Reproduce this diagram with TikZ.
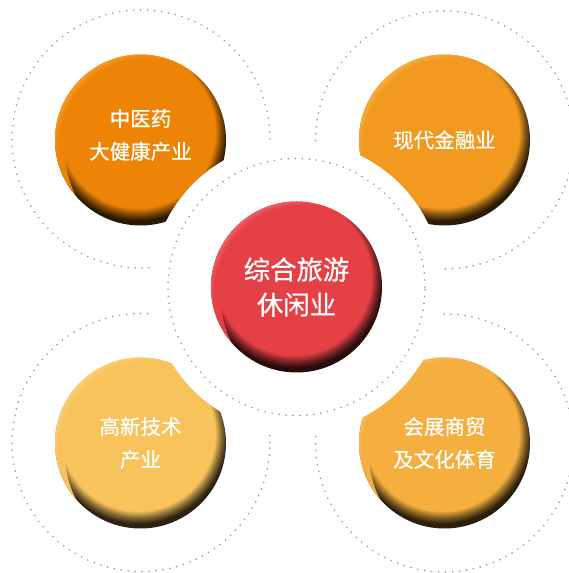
\documentclass[tikz,border=0pt]{standalone}
\usepackage{fontspec}
\setmainfont{Noto Sans CJK SC}[FakeBold=0.6]

\definecolor{medorange}{HTML}{EE8405}
\definecolor{finorange}{HTML}{F29A20}
\definecolor{techyellow}{HTML}{F8C35B}
\definecolor{tradeorange}{HTML}{F4AF3E}
\definecolor{tourred}{HTML}{E54045}
\definecolor{ringgray}{HTML}{9A9A9A}

\colorlet{ballbase}{medorange}
\colorlet{ballmid}{black}
\colorlet{balldark}{black}
\colorlet{balllight}{white}
% dark rim at the lower right, light rim at the upper left
\pgfdeclareradialshading[ballbase,ballmid,balldark]{ballshade}{\pgfpoint{-1.5bp}{5bp}}{color(0bp)=(ballbase); color(22.6bp)=(ballbase); color(24.3bp)=(ballmid); color(26bp)=(balldark); color(50bp)=(balldark)}
\pgfdeclareradialshading[ballbase,balllight]{ballshine}{\pgfpoint{4bp}{-4bp}}{color(0bp)=(ballbase); color(26bp)=(ballbase); color(30.7bp)=(balllight); color(50bp)=(balllight)}

% one shaded ball: #1 centre, #2 colour
\newcommand{\drawball}[2]{%
    \colorlet{ballbase}{#2}\colorlet{ballmid}{#2!55!black}\colorlet{balldark}{#2!18!black}\colorlet{balllight}{#2!45!white}%
    \begin{scope}[shift={#1}]
        \shade[shading=ballshade] (0,0) circle (85.5);
        \begin{scope}[even odd rule]
            \clip (0,0) circle (85.5);
            \clip (-90,-90) rectangle (90,90) (13.7,-13.7) circle (88.9);
            \shade[shading=ballshine] (0,0) circle (85.5);
        \end{scope}
    \end{scope}}

\tikzset{
    x=0.03cm, y=0.03cm, % one unit is one pixel of the layout
    ring/.style={ringgray, line width=0.054cm, dash pattern=on 0pt off 0.21cm, line cap=round}, % dotted circles
    small text/.style={text=white, align=center, font=\fontsize{17.5}{28}\selectfont},
    big text/.style={text=white, align=center, font=\fontsize{22.5}{30}\selectfont},
}

\begin{document}
\begin{tikzpicture}
    \useasboundingbox (0,0) rectangle (568,573);
    % dotted rings round the outer balls
    \foreach \pos in {(141,434),(444.5,433),(141,130.5),(444.5,130)}
        \draw[ring] \pos circle (129);
    \drawball{(140.5,433)}{medorange}
    \drawball{(444.5,433)}{finorange}
    \drawball{(140.5,130)}{techyellow}
    \drawball{(444.5,130)}{tradeorange}
    \node[small text] (med) at (140.5,438) {中医药\\大健康产业};
    \node[small text] (fin) at (444.5,433) {现代金融业};
    \node[small text] (tech) at (140.5,130) {高新技术\\产业};
    \node[small text] (trade) at (444.5,130) {会展商贸\\及文化体育};
    % white gap round the middle cuts the outer balls
    \coordinate (hub) at (296.5,286);
    \fill[white] (hub) circle (146);
    \draw[ring] (hub) circle (128.5);
    \drawball{(hub)}{tourred}
    \node[big text] (tour) at (hub) {综合旅游\\休闲业};
\end{tikzpicture}
\end{document}
